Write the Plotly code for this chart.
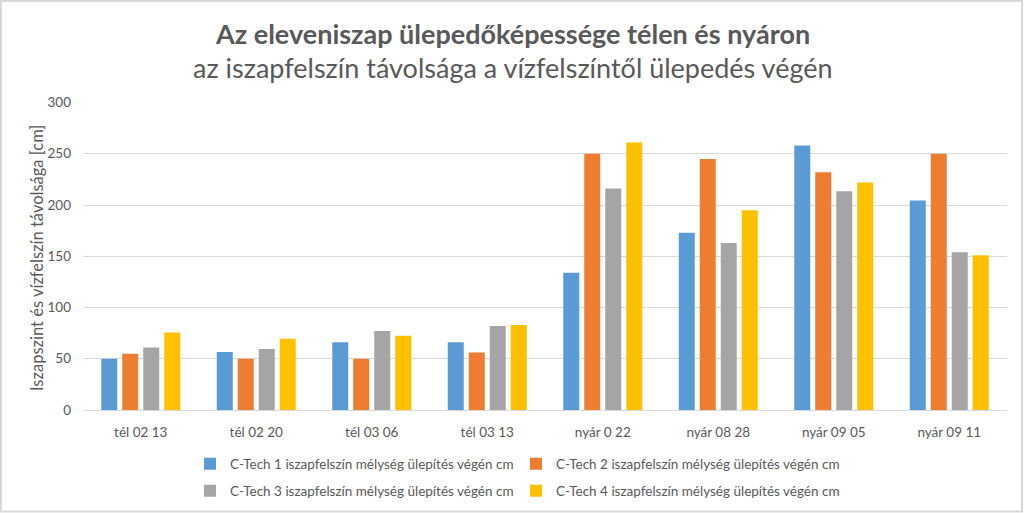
import plotly.graph_objects as go

categories = ["tél 02 13", "tél 02 20", "tél 03 06", "tél 03 13",
              "nyár 0 22", "nyár 08 28", "nyár 09 05", "nyár 09 11"]
ctech1 = [50, 56.5, 66, 66, 134, 173, 258, 204.5]
ctech2 = [55, 50, 50, 56, 250, 245, 232, 250]
ctech3 = [61, 59.5, 77, 82, 216, 163, 213.5, 154]
ctech4 = [75.5, 69.5, 72.5, 83, 261, 195, 222, 151]
series_names = [
    "C-Tech 1 iszapfelszín mélység ülepítés végén cm",
    "C-Tech 2 iszapfelszín mélység ülepítés végén cm",
    "C-Tech 3 iszapfelszín mélység ülepítés végén cm",
    "C-Tech 4 iszapfelszín mélység ülepítés végén cm",
]
colors = ["#5B9BD5", "#ED7D31", "#A5A5A5", "#FFC000"]
title_main = "Az eleveniszap ülepedőképessége télen és nyáron"
title_sub = "az iszapfelszín távolsága a vízfelszíntől ülepedés végén"
y_title = "Iszapszint és vízfelszín távolsága [cm]"

FONT = "Lato, 'Open Sans', sans-serif"
TXT = "#595959"

fig = go.Figure()
for i, (vals, name, col) in enumerate(zip([ctech1, ctech2, ctech3, ctech4], series_names, colors)):
    fig.add_trace(go.Bar(
        x=categories, y=vals, name=name, marker=dict(color=col, line=dict(width=0)),
        legend="legend" if i < 2 else "legend2",
    ))

W, H = 1024, 513
L, R, T, B = 83, 17, 102, 103
pw, ph = W - L - R, H - T - B

def px_x(p):
    return (p - L) / pw

def px_y(p):
    return (H - B - p) / ph

legend_common = dict(
    orientation="h", xanchor="left", yanchor="middle",
    font=dict(family=FONT, size=13.5, color=TXT),
    bgcolor="rgba(0,0,0,0)", itemwidth=30, traceorder="normal",
    itemclick=False, entrywidth=281, entrywidthmode="pixels",
)

fig.update_layout(
    width=W, height=H,
    margin=dict(l=L, r=R, t=T, b=B, autoexpand=False),
    paper_bgcolor="white", plot_bgcolor="white",
    barmode="group", bargap=0.273, bargroupgap=0.238,
    font=dict(family=FONT, size=13, color=TXT),
    xaxis=dict(showgrid=False, showline=True, linecolor="#D9D9D9", linewidth=1,
               ticks="", ticklabelstandoff=10, automargin=False,
               tickfont=dict(family=FONT, size=13.5, color=TXT), fixedrange=True),
    yaxis=dict(range=[0, 300.5], tickvals=[0, 50, 100, 150, 200, 250, 300],
               showgrid=True, gridcolor="#D9D9D9", gridwidth=1, automargin=False,
               zeroline=False, ticks="", tickfont=dict(family=FONT, size=13.5, color=TXT),
               ticklabelstandoff=11, fixedrange=True),
    legend=dict(x=px_x(190), y=px_y(464), **legend_common),
    legend2=dict(x=px_x(190), y=px_y(491), **legend_common),
    showlegend=True,
    annotations=[
        dict(text="<b>" + title_main + "</b>", xref="paper", yref="paper",
             x=px_x(512), y=px_y(33), xanchor="center", yanchor="middle", showarrow=False,
             font=dict(family=FONT, size=27, color=TXT)),
        dict(text=title_sub, xref="paper", yref="paper",
             x=px_x(513), y=px_y(67), xanchor="center", yanchor="middle", showarrow=False,
             font=dict(family=FONT, size=27, color=TXT)),
        dict(text=y_title, xref="paper", yref="paper", textangle=-90,
             x=px_x(37), y=px_y(258), xanchor="center", yanchor="middle", showarrow=False,
             font=dict(family=FONT, size=16.5, color=TXT)),
    ],
    shapes=[
        dict(type="rect", xref="paper", yref="paper",
             x0=px_x(1), x1=px_x(1022), y0=px_y(511.5), y1=px_y(1),
             line=dict(color="#D9D9D9", width=2), fillcolor="rgba(0,0,0,0)", layer="below"),
    ],
)

fig.write_html("out.html", config={"displayModeBar": False},
               post_script="document.body.style.margin='0';document.body.style.padding='0';")
